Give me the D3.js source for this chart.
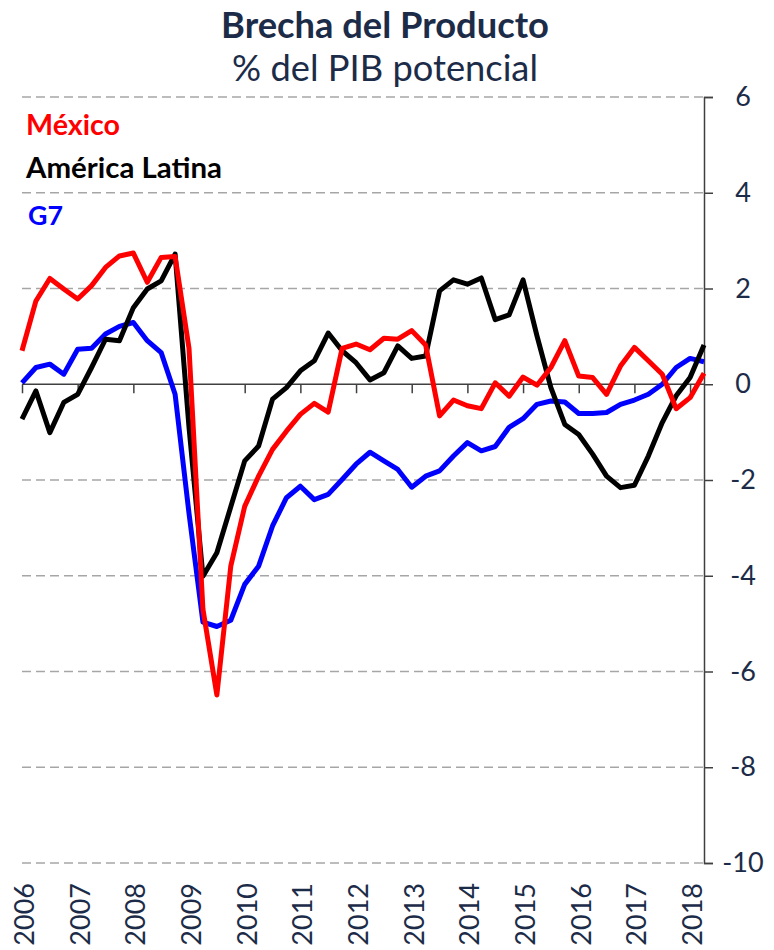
<!DOCTYPE html>
<html>
<head>
<meta charset="utf-8">
<script src="https://cdn.jsdelivr.net/npm/d3@7"></script>
<style>
  body { margin: 0; background: #fff; }
  svg { display: block; }
  text { font-family: Lato, "Open Sans", sans-serif; }
</style>
</head>
<body>
<div id="chart"></div>
<script>
// years shown on the axis, the series run quarterly from 2006T1 to 2018T2
var years = [2006, 2007, 2008, 2009, 2010, 2011, 2012, 2013, 2014, 2015, 2016, 2017, 2018];
var quarters = [];
years.forEach(function (y) {
	for (var q = 1; q <= 4; q++) {
		if (y === 2018 && q > 2) break;
		quarters.push(y + "T" + q);
	}
});

var mexico = [0.7, 1.74, 2.21, 1.99, 1.78, 2.06, 2.44, 2.68, 2.74, 2.13,
	2.65, 2.67, 0.75, -4.7, -6.49, -3.8, -2.55, -1.92, -1.36, -0.98,
	-0.63, -0.4, -0.58, 0.75, 0.84, 0.72, 0.96, 0.94, 1.12, 0.82,
	-0.66, -0.33, -0.45, -0.51, 0.03, -0.25, 0.15, -0.02, 0.35, 0.91,
	0.17, 0.14, -0.21, 0.38, 0.77, 0.49, 0.21, -0.51, -0.28, 0.23];

var americaLatina = [-0.73, -0.14, -1.01, -0.38, -0.21, 0.35, 0.94, 0.91, 1.6, 1.99,
	2.16, 2.72, -0.9, -4.01, -3.52, -2.56, -1.6, -1.29, -0.31, -0.07,
	0.28, 0.49, 1.07, 0.7, 0.45, 0.09, 0.24, 0.8, 0.54, 0.59,
	1.95, 2.18, 2.09, 2.22, 1.35, 1.45, 2.18, 1.01, -0.07, -0.84,
	-1.05, -1.46, -1.92, -2.16, -2.11, -1.5, -0.8, -0.24, 0.14, 0.82];

var g7 = [0.03, 0.35, 0.42, 0.21, 0.73, 0.75, 1.05, 1.21, 1.29, 0.91,
	0.66, -0.21, -2.7, -4.97, -5.06, -4.93, -4.18, -3.8, -2.96, -2.37,
	-2.13, -2.41, -2.3, -1.99, -1.67, -1.42, -1.6, -1.78, -2.15, -1.92,
	-1.81, -1.5, -1.22, -1.39, -1.3, -0.9, -0.72, -0.42, -0.35, -0.37,
	-0.61, -0.61, -0.59, -0.42, -0.33, -0.21, 0.0, 0.35, 0.54, 0.47];

var yTicks = [6, 4, 2, 0, -2, -4, -6, -8, -10];

var series = [
	{name: "G7", values: g7, color: "#0000ff"},
	{name: "América Latina", values: americaLatina, color: "#000000"},
	{name: "México", values: mexico, color: "#ff0000"}
];

var width = 774, height = 950;
var plotLeft = 22, plotRight = 704, plotTop = 97, plotBottom = 863;
var textColor = "#1c2c48";

var svg = d3.select("#chart").append("svg")
	.attr("width", width)
	.attr("height", height);

var x = d3.scalePoint()
	.domain(quarters)
	.range([plotLeft, plotRight]);
var y = d3.scaleLinear()
	.domain([-10, 6])
	.range([plotBottom, plotTop]);

// squeeze a text to a measured width
function fit(sel, w) {
	var len = sel.node().getComputedTextLength();
	var fs = parseFloat(sel.attr("font-size"));
	sel.attr("font-size", fs * w / len);
}

// titles
svg.append("text")
	.attr("x", 385).attr("y", 38)
	.attr("text-anchor", "middle")
	.attr("font-size", 36)
	.attr("font-weight", "bold")
	.attr("fill", textColor)
	.text("Brecha del Producto")
	.call(fit, 328);
svg.append("text")
	.attr("x", 385).attr("y", 81)
	.attr("text-anchor", "middle")
	.attr("font-size", 32)
	.attr("fill", textColor)
	.text("% del PIB potencial")
	.call(fit, 306);

// dashed grid
svg.append("g").selectAll("line")
	.data(yTicks.filter(function (d) { return d !== 0; }))
	.enter().append("line")
	.attr("x1", plotLeft).attr("x2", plotRight)
	.attr("y1", function (d) { return y(d); })
	.attr("y2", function (d) { return y(d); })
	.attr("stroke", "#a6a6a6")
	.attr("stroke-width", 1.5)
	.attr("stroke-dasharray", "9,5");

// right value axis
var yAxis = d3.axisRight(y)
	.tickValues(yTicks)
	.tickSize(9)
	.tickPadding(0)
	.tickFormat(d3.format("d"));
var ga = svg.append("g")
	.attr("transform", "translate(" + plotRight + ",0)")
	.call(yAxis);
ga.select(".domain").attr("stroke", "#404040").attr("stroke-width", 1.5);
ga.selectAll(".tick line").attr("stroke", "#404040").attr("stroke-width", 1.5);
ga.selectAll(".tick text")
	.attr("x", 39)
	.attr("text-anchor", "middle")
	.attr("font-size", 27)
	.attr("font-family", "Lato, sans-serif")
	.attr("fill", textColor)
	.text(function (d) { return d < 0 ? "-" + Math.abs(d) : d; });

// category axis on the zero line
var yearQuarters = quarters.filter(function (q) { return /T1$/.test(q); });
var xAxis = d3.axisBottom(x)
	.tickValues(yearQuarters)
	.tickSize(9)
	.tickFormat("");
var gx = svg.append("g")
	.attr("transform", "translate(0," + y(0) + ")")
	.call(xAxis);
gx.select(".domain").attr("d", "M" + plotLeft + ",0H" + plotRight)
	.attr("stroke", "#404040").attr("stroke-width", 1.5);
gx.selectAll(".tick line").attr("stroke", "#404040").attr("stroke-width", 1.5);

// year labels, rotated, at the bottom
svg.append("g").selectAll("text")
	.data(yearQuarters)
	.enter().append("text")
	.attr("transform", function (d) {
		return "translate(" + (x(d) + 12) + ",883) rotate(-90)";
	})
	.attr("text-anchor", "end")
	.attr("font-size", 27)
	.attr("fill", textColor)
	.text(function (d) { return d.slice(0, 4); });

// lines
var line = d3.line()
	.x(function (d, i) { return x(quarters[i]); })
	.y(function (d) { return y(d); });

svg.append("g").selectAll("path")
	.data(series)
	.enter().append("path")
	.attr("d", function (s) { return line(s.values); })
	.attr("fill", "none")
	.attr("stroke", function (s) { return s.color; })
	.attr("stroke-width", 5)
	.attr("stroke-linejoin", "round");

// legend as coloured labels
var legend = [
	{name: "México", color: "#ff0000", y: 135, w: 94},
	{name: "América Latina", color: "#000000", y: 178, w: 196},
	{name: "G7", color: "#0000ff", y: 225, w: 35}
];
legend.forEach(function (l) {
	svg.append("text")
		.attr("x", l.name === "G7" ? 28 : 26)
		.attr("y", l.y)
		.attr("font-size", 28)
		.attr("font-weight", "bold")
		.attr("fill", l.color)
		.text(l.name)
		.call(fit, l.w);
});
</script>
</body>
</html>
